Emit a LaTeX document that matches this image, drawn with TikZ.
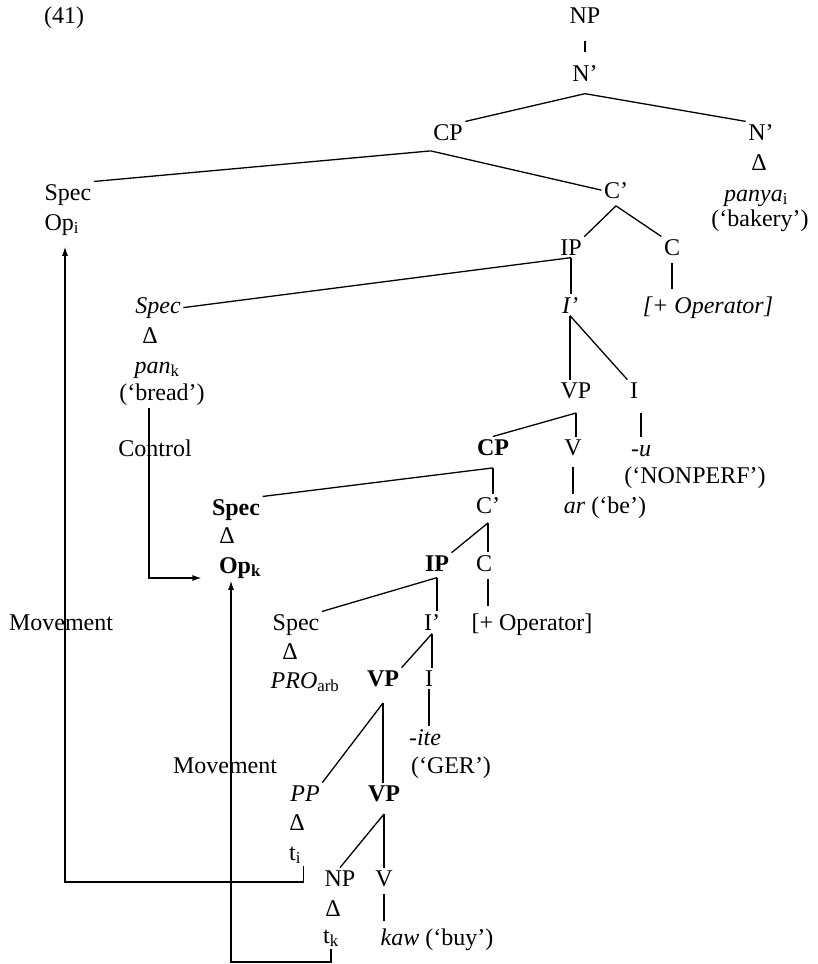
\documentclass[tikz,border=0pt]{standalone}
\usepackage{fontspec}
\setmainfont{Liberation Serif}
\usetikzlibrary{arrows.meta}

\begin{document}
\begin{tikzpicture}[x=1pt, y=-1pt, line width=1.3pt,
		font=\fontsize{24}{29}\selectfont,
		tr/.style={anchor=base, inner sep=2pt},
		un/.style={shorten <=5pt, shorten >=5pt},
		mv/.style={line width=1.2pt, -{Latex[length=9pt,width=6pt]}}]
	\useasboundingbox (0,0) rectangle (818,964);

	\node[tr] (ex) at (64,23) {(41)};
	\node[tr] (np) at (585,23) {NP};
	\node[tr] (nbar) at (585,81) {N'};
	\node[tr] (cp) at (448,140) {CP};
	\node[tr] (nr) at (761,140) {N'};
	\node[tr] (panya) at (756,201) {\textit{panya}\textsubscript{i}};
	\node[tr] (bakery) at (760,226) {(`bakery')};
	\node[tr, anchor=base west] (spec1) at (42,200) {Spec};
	\node[tr, anchor=base west] (opi) at (42,230) {Op\textsubscript{i}};
	\node[tr] (cbar) at (616,198) {C'};
	\node[tr] (ip) at (571,255) {IP};
	\node[tr] (c) at (672,255) {C};
	\node[tr] (spec2) at (158,313) {\textit{Spec}};
	\node[tr] (ibar) at (570,313) {\textit{I'}};
	\node[tr] (oper1) at (708,313) {\textit{[+ Operator]}};
	\node[tr] (pank) at (157,373) {\textit{pan}\textsubscript{k}};
	\node[tr] (bread) at (162,400) {(`bread')};
	\node[tr] (ctl) at (155,456) {Control};
	\node[tr] (vp1) at (576,398) {VP};
	\node[tr] (i1) at (634,398) {I};
	\node[tr] (cp2) at (493,455) {\textbf{CP}};
	\node[tr] (v1) at (573,455) {V};
	\node[tr] (u) at (641,456) {\textit{-u}};
	\node[tr] (nonperf) at (695,483) {(`NONPERF')};
	\node[tr] (arbe) at (605,513) {\textit{ar} (`be')};
	\node[tr] (spec3) at (236,515) {\textbf{Spec}};
	\node[tr] (cbar2) at (488,513) {C'};
	\node[tr] (opk) at (240,573) {\textbf{Op\textsubscript{k}}};
	\node[tr] (ip2) at (437,571) {\textbf{IP}};
	\node[tr] (c2) at (484,571) {C};
	\node[tr] (spec4) at (296,630) {Spec};
	\node[tr] (ibar2) at (432,630) {I'};
	\node[tr] (oper2) at (532,630) {[+ Operator]};
	\node[tr] (mv1) at (61,630) {Movement};
	\node[tr] (pro) at (305,688) {\textit{PRO}\textsubscript{arb}};
	\node[tr] (vp2) at (383,686) {\textbf{VP}};
	\node[tr] (i2) at (429,686) {I};
	\node[tr] (ite) at (425,745) {\textit{-ite}};
	\node[tr] (ger) at (451,773) {(`GER')};
	\node[tr] (mv2) at (225,773) {Movement};
	\node[tr] (pp) at (305,801) {\textit{PP}};
	\node[tr] (vp3) at (384,801) {\textbf{VP}};
	\node[tr] (ti) at (295,860) {t\textsubscript{i}};
	\node[tr] (np2) at (340,886) {NP};
	\node[tr] (v2) at (384,886) {V};
	\node[tr] (tk) at (331,943) {t\textsubscript{k}};
	\node[tr] (kaw) at (437,945) {\textit{kaw} (`buy')};
	\foreach \n/\x/\y in {d1/759/170, d2/150/343, d3/227/543, d4/290/659, d5/297/830, d6/333/916} {
			\node[tr] (\n) at (\x,\y) {Δ};
		}

	\coordinate (aN) at ([yshift=-10pt]nbar.south);
	\coordinate (aCP) at ([yshift=-8pt]cp.south west);
	\coordinate (aC) at ([yshift=-5pt]cbar.south);
	\coordinate (aVP) at ([yshift=-12pt]vp1.south);
	\coordinate (aCP2) at ([yshift=-10pt]cp2.south);
	\coordinate (aC2) at ([yshift=-7pt]cbar2.south);
	\coordinate (aIP2) at ([yshift=-4pt]ip2.south);
	\coordinate (aI2) at ([yshift=-1pt]ibar2.south);
	\coordinate (aVP2) at ([yshift=-14pt]vp2.south);
	\coordinate (aVP3) at ([yshift=-10pt]vp3.south);

	\draw[shorten <=15pt, shorten >=10pt] (np) -- (nbar);
	\draw (aN) -- (cp.north east);
	\draw (aN) -- (nr.north west);
	\draw (aCP) -- (spec1.north east);
	\draw (aCP) -- (cbar.west);
	\draw (aC) -- (ip.north east);
	\draw (aC) -- (c.north west);
	\draw (ip.south) -- (spec2.east);
	\draw (ip.south) -- (ip.south |- ibar.north);
	\draw[un] (c) -- (c |- oper1.north);
	\draw (ibar.south) -- (ibar.south |- vp1.north);
	\draw (ibar.south) -- (i1.north west);
	\draw[shorten <=12pt, shorten >=5pt] (u.north |- i1.south) -- (u.north);
	\draw (aVP) -- (cp2.north);
	\draw (aVP) -- (aVP |- v1.north);
	\draw[shorten <=9pt] (v1.south) -- (v1.south |- arbe.north);
	\draw (aCP2) -- (spec3.north east);
	\draw (aCP2) -- (aCP2 |- cbar2.north);
	\draw (aC2) -- (ip2.north east);
	\draw (aC2) -- (aC2 |- c2.north);
	\draw[un] (aC2 |- c2.south) -- (aC2 |- oper2.north);
	\draw (aIP2) -- (spec4.north east);
	\draw (aIP2) -- (aIP2 |- ibar2.north);
	\draw (aI2) -- (vp2.north east);
	\draw (aI2) -- (aI2 |- i2.north);
	\draw (i2.south) -- (i2.south |- ite.north);
	\draw (aVP2) -- (pp.north east);
	\draw (aVP2) -- (aVP2 |- vp3.north);
	\draw (aVP3) -- (np2.north);
	\draw (aVP3) -- (aVP3 |- v2.north);
	\draw[un] (v2.south) -- (v2.south |- kaw.north);

	\coordinate (turnA) at (65,882);
	\coordinate (turnB) at (231,962);
	\coordinate (turnC) at (149,578);
	\draw[mv, shorten >=9pt] (ti.south east) |- (turnA) -- (turnA |- opi.south);
	\draw[mv] (tk.south) |- (turnB) -- (turnB |- opk.south);
	\draw[mv, shorten >=15pt] (turnC |- bread.south) -- (turnC) -- (turnC -| opk.west);
\end{tikzpicture}
\end{document}
